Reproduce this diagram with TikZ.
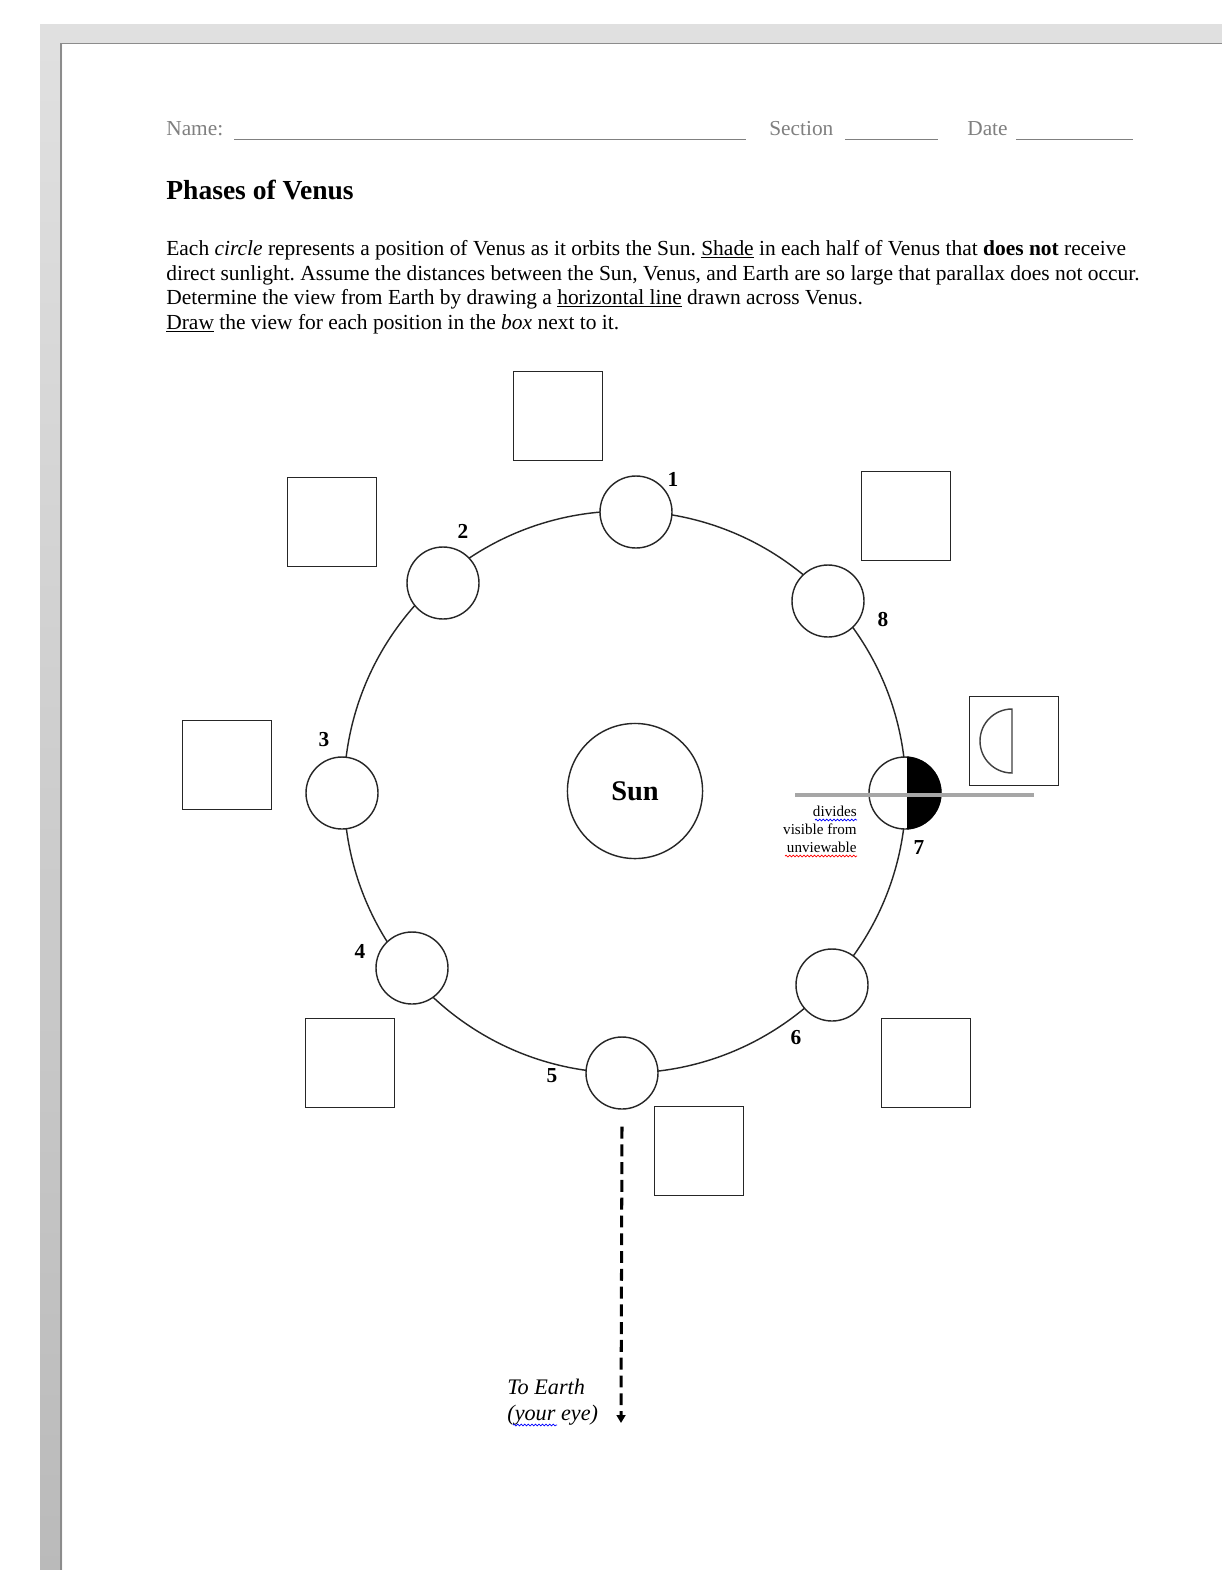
\documentclass[tikz,border=0pt]{standalone}
\usepackage{fontspec}
\setmainfont{Liberation Serif}
\usetikzlibrary{decorations.pathmorphing,arrows.meta}
\frenchspacing
\tikzset{
  venus/.style={circle,draw=black!85,line width=0.8pt,fill=white,minimum size=40.5pt,inner sep=0pt},
  vbox/.style={rectangle,draw=black!85,line width=0.9pt,minimum size=50pt,inner sep=0pt},
  num/.style={font=\fontsize{12}{14}\selectfont\bfseries,inner sep=0pt},
  para/.style={anchor=base west,inner sep=0pt,font=\fontsize{12.07}{14}\selectfont},
  hdr/.style={anchor=base west,inner sep=0pt,font=\fontsize{12}{14}\selectfont,text=black!50},
  hline/.style={black!50,line width=0.5pt},
  small/.style={anchor=base east,inner sep=0pt,font=\fontsize{8.5}{10}\selectfont},
  squiggle/.style={decorate,decoration={snake,segment length=2pt,amplitude=0.5pt},line width=0.4pt}
}
\begin{document}
\begin{tikzpicture}[x=0.5625pt,y=-0.5625pt]
\useasboundingbox (0,0) rectangle (1222,1570);
\fill[white] (0,0) rectangle (1222,1570);
% page background
\fill[black!12] (40,24) rectangle (1222,44);
\shade[top color=black!12,bottom color=black!27] (40,24) rectangle (62,1570);
\draw[black!45,line width=0.8pt] (61,1570) -- (61,43.5) -- (1222,43.5);

% header
\node[hdr] (name) at (166,135) {Name:};
\draw[hline] (234,139) -- (746,139);
\node[hdr] (section) at (769,135) {Section};
\draw[hline] (845,139) -- (938,139);
\node[hdr] (date) at (967,135) {Date};
\draw[hline] (1016,139) -- (1133,139);

% title
\node[anchor=base west,inner sep=0pt,font=\fontsize{15.5}{17}\selectfont\bfseries] (title) at (166,199) {Phases of Venus};

% paragraph
\node[para] (p1) at (166,255) {Each \textit{circle} represents a position of Venus as it orbits the Sun. \underline{Shade} in each half of Venus that \textbf{does not} receive};
\node[para] (p2) at (166,280) {direct sunlight. Assume the distances between the Sun, Venus, and Earth are so large that parallax does not occur.};
\node[para] (p3) at (166,304) {Determine the view from Earth by drawing a \underline{horizontal line} drawn across Venus.};
\node[para] (p4) at (166,329) {\underline{Draw} the view for each position in the \textit{box} next to it.};

% orbit
\draw[black!85,line width=0.8pt] (625,792) circle[radius=281];

% sun
\node[circle,draw=black!85,line width=0.8pt,fill=white,minimum size=76pt,inner sep=0pt,font=\fontsize{16}{18}\selectfont\bfseries] (sun) at (635,791) {Sun};

% venus positions
\node[venus] (v1) at (636,512) {};
\node[venus] (v2) at (443,583) {};
\node[venus] (v3) at (342,793) {};
\node[venus] (v4) at (412,968) {};
\node[venus] (v5) at (622,1073) {};
\node[venus] (v6) at (832,985) {};
\node[venus] (v7) at (905,793) {};
\node[venus] (v8) at (828,601) {};

% shading of position 7
\begin{scope}
\clip (907,700) rectangle (1000,900);
\fill[black] (v7.center) circle[radius=36.5];
\end{scope}

% number labels
\node[num] (n1) at (673,479) {1};
\node[num] (n2) at (463,531) {2};
\node[num] (n3) at (324,740) {3};
\node[num] (n4) at (360,951) {4};
\node[num] (n5) at (552,1076) {5};
\node[num] (n6) at (796,1038) {6};
\node[num] (n7) at (919,848) {7};
\node[num] (n8) at (883,619) {8};

% boxes
\node[vbox] (b1) at (558,416) {};
\node[vbox] (b2) at (332,522) {};
\node[vbox] (b3) at (227,765) {};
\node[vbox] (b4) at (350,1063) {};
\node[vbox] (b5) at (699,1151) {};
\node[vbox] (b6) at (926,1063) {};
\node[vbox] (b7) at (1014,741) {};
\node[vbox] (b8) at (906,516) {};

% half moon in box 7
\draw[black!75,line width=0.8pt] (1012,709) arc[start angle=270,end angle=90,radius=32] -- cycle;

% dividing line
\coordinate (gl) at (795,795);
\coordinate (gr) at (1034,795);
\draw[black!35,line width=2.6pt] (gl) -- (gr);

% small note
\node[small] (t1) at (857,816) {divides};
\node[small] (t2) at (857,834) {visible from};
\node[small] (t3) at (857,852) {unviewable};
\draw[squiggle,blue] (815,820) -- (857,820);
\draw[squiggle,red] (785,856) -- (857,856);

% to earth
\coordinate (earth) at (621,1423);
\draw[line width=1.7pt,dash pattern=on 6.7pt off 3.3pt,-{Triangle[width=5pt,length=4.5pt]}] ([yshift=-9.5pt]v5.south) -- (earth);
\node[anchor=base west,inner sep=0pt,font=\fontsize{12.5}{14}\selectfont\itshape] (te1) at (507,1394) {To Earth};
\node[anchor=base west,inner sep=0pt,font=\fontsize{12.5}{14}\selectfont\itshape] (te2) at (507,1420) {(your eye)};
\draw[squiggle,blue] (513,1425) -- (557,1425);
\end{tikzpicture}
\end{document}
